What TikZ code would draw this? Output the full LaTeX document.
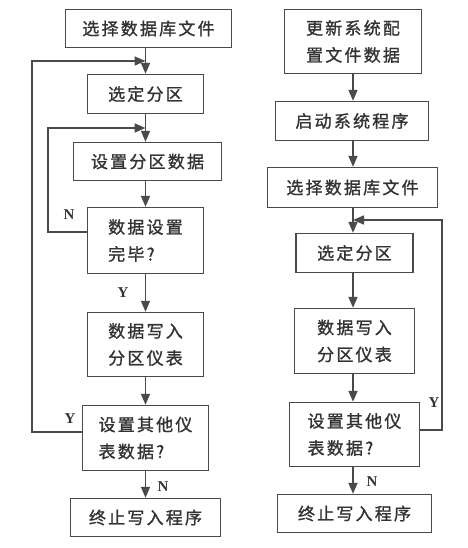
\documentclass[tikz,border=0pt]{standalone}
\usepackage{fontspec}
\newfontfamily\cjk[LetterSpace=13,FakeBold=1.2]{Noto Sans CJK SC}
\newfontfamily\lat{Liberation Serif}
\usetikzlibrary{arrows.meta,calc}
\definecolor{ink}{HTML}{333333}
\definecolor{edge}{HTML}{4A4A4A}
\begin{document}
\begin{tikzpicture}[x=1pt,y=-1pt,
  box/.style={draw=edge,line width=1.4pt,inner sep=0pt,text=ink,font=\cjk\fontsize{17}{27}\selectfont,align=left},
  arr/.style={draw=edge,line width=1.6pt,-{Triangle[length=11pt,width=9pt]}},
  lab/.style={text=ink,font=\lat\bfseries\fontsize{15}{15}\selectfont,inner sep=0pt}]
\useasboundingbox (0,0) rectangle (467,548);
% left column
\node[box,minimum width=166pt,minimum height=38pt] (L1) at (148.5,28.5) {选择数据库文件};
\node[box,minimum width=116pt,minimum height=39pt] (L2) at (145.5,94) {选定分区};
\node[box,minimum width=148pt,minimum height=38pt] (L3) at (147.5,161.5) {设置分区数据};
\node[box,minimum width=116pt,minimum height=66pt] (L4) at (145.5,240.5) {数据设置\\完毕?};
\node[box,minimum width=116pt,minimum height=64pt] (L5) at (145.5,344.5) {数据写入\\分区仪表};
\node[box,minimum width=126pt,minimum height=65pt] (L6) at (145.5,438) {设置其他仪\\表数据?};
\node[box,minimum width=150pt,minimum height=38pt] (L7) at (145.5,517.5) {终止写入程序};
\draw[arr] (L2.north |- L1.south) -- (L2.north);
\draw[arr] (L2.south) -- (L3.north -| L2.south);
\draw[arr] (L3.south -| L4.north) -- (L4.north);
\draw[arr] (L4.south) -- (L5.north);
\draw[arr] (L5.south) -- (L6.north);
\draw[arr] (L6.south) -- (L7.north);
\coordinate (lo1) at (32,432);
\coordinate (lo2) at (32,61);
\coordinate (li1) at (48,232);
\coordinate (li2) at (48,128);
\draw[arr] (L6.west |- lo1) -- (lo1) -- (lo2) -- (L2.north |- lo2);
\draw[arr] (L4.west |- li1) -- (li1) -- (li2) -- (L2.north |- li2);
\node[lab] (lY1) at (70,419) {Y};
\node[lab] (lN1) at (69,215) {N};
\node[lab] (lY2) at (123,293) {Y};
\node[lab] (lN2) at (163,487) {N};
% right column
\node[box,minimum width=137pt,minimum height=64pt] (R1) at (353,41.5) {更新系统配\\置文件数据};
\node[box,minimum width=153pt,minimum height=39pt] (R2) at (352,121) {启动系统程序};
\node[box,minimum width=170pt,minimum height=40pt] (R3) at (352.5,187.5) {选择数据库文件};
\node[box,minimum width=117pt,minimum height=39pt] (R4) at (354.5,253) {选定分区};
\node[box,minimum width=120pt,minimum height=65pt] (R5) at (354.5,341) {数据写入\\分区仪表};
\node[box,minimum width=130pt,minimum height=64pt] (R6) at (354.5,434.5) {设置其他仪\\表数据?};
\node[box,minimum width=154pt,minimum height=38pt] (R7) at (354.5,513.5) {终止写入程序};
\coordinate (ax) at (353,0);
\draw[arr] (ax |- R1.south) -- (ax |- R2.north);
\draw[arr] (ax |- R2.south) -- (ax |- R3.north);
\draw[arr] (ax |- R3.south) -- (ax |- R4.north);
\draw[arr] (ax |- R4.south) -- (ax |- R5.north);
\draw[arr] (ax |- R5.south) -- (ax |- R6.north);
\draw[arr] (ax |- R6.south) -- (ax |- R7.north);
\coordinate (ro1) at (442,430);
\coordinate (ro2) at (442,220);
\draw[arr] (R6.east |- ro1) -- (ro1) -- (ro2) -- (ax |- ro2);
\node[lab] (rY) at (434,403) {Y};
\node[lab] (rN) at (372,482) {N};
\end{tikzpicture}
\end{document}
